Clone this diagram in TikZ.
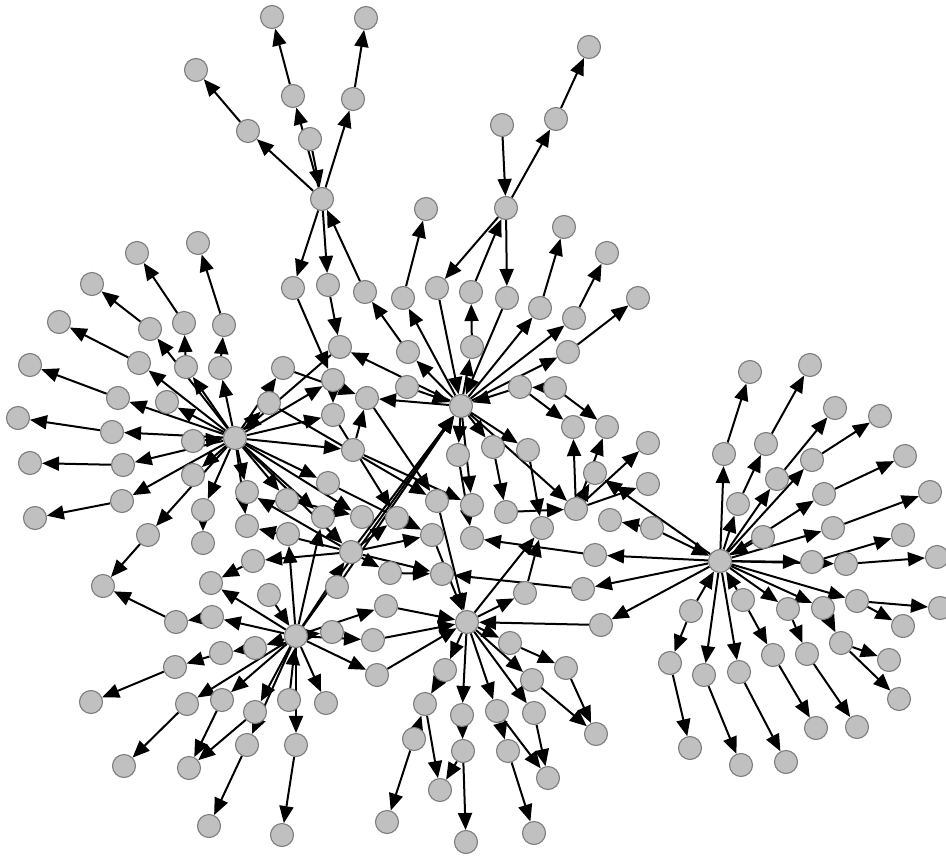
\documentclass[tikz,border=0pt]{standalone}
\usetikzlibrary{arrows.meta}
\pgfdeclarelayer{bg}
\pgfsetlayers{bg,main}
\definecolor{nodefill}{RGB}{192,192,192}
\definecolor{nodeline}{RGB}{125,125,125}
\begin{document}
\begin{tikzpicture}[x=1pt,y=-1pt,
  v/.style={circle,fill=nodefill,draw=nodeline,line width=1.1pt,minimum size=23pt,inner sep=0pt},
  e/.style={line width=2pt,black,-{Triangle[length=17pt,width=14pt]}}]
\useasboundingbox (0,0) rectangle (946,857);
\foreach \n/\x/\y in {
A/235/438, B/461/406, C/720/561, D/296/636, E/467/622, F/576/509, G/322/199, H/506/208, I/351/552,
g1/272/17, g2/366/18, g3/196/70, g4/293/96, g5/353/99, g6/248/131, g7/310/139, ga/293/288, gb/328/285, gc/365/292,
h1/589/47, h2/556/119, h3/502/125, h4/426/209, h5/564/227, h6/607/253, ha/403/298, hb/437/288, hc/471/292, hd/507/298, he/540/308, hf/574/318, hg/638/298,
b1/340/347, b2/408/352, b3/472/347, b4/568/352, b5/333/380, b6/367/398, b7/407/387, b8/520/387, b9/555/388, b10/333/415, b11/573/427, b12/607/427, b13/353/450, b14/458/455, b15/493/447, b16/528/450, b17/595/473, b18/328/483,
c1/437/501, c2/472/505, c3/506/512, c4/542/528, c5/610/520, c6/323/517, c7/362/517, c8/397/518, c9/432/535, c10/472/538, c11/595/555, c12/390/573, c13/442/574, c14/525/593, c15/583/589, c16/386/606, c17/601/625, c18/337/587,
f1/648/443, f2/648/484, f3/652/528,
a1/92/284, a2/137/253, a3/198/243, a4/59/322, a5/150/329, a6/184/323, a7/224/325, a8/30/365, a9/139/363, a10/186/367, a11/220/368, a12/283/368, a13/118/398, a14/167/402, a15/269/403, a16/18/418, a17/112/432, a18/193/441, a19/30/463, a20/123/465, a21/193/475, a22/35/518, a23/122/501, a24/247/492, a25/287/500, a26/203/510, a27/247/526, a28/288/534, a29/148/535, a30/203/543, a31/253/561,
d1/103/586, d2/211/583, d3/269/595, d4/176/622, d5/212/617, d6/221/653, d7/255/648, d8/175/667, d9/91/702, d10/187/704, d11/222/700, d12/255/712, d13/289/700, d14/326/703, d15/247/745, d16/296/745, d17/124/766, d18/189/768, d19/209/826, d20/282/835, d21/332/632, d22/373/640, d23/377/675,
e1/510/643, e2/445/670, e3/532/680, e4/566/668, e5/425/704, e6/462/715, e7/497/711, e8/534/713, e9/596/734, e10/414/739, e11/463/751, e12/508/751, e13/548/778, e14/440/790, e15/387/822, e16/466/842, e17/534/833,
k1/750/372, k2/810/365, k3/835/408, k4/880/416, k5/724/454, k6/766/444, k7/905/456, k8/777/479, k9/812/460, k10/738/504, k11/824/494, k12/930/492, k13/763/537, k14/833/528, k15/903/535, k16/812/562, k17/846/564, k18/937/557, k19/743/600, k20/788/609, k21/823/608, k22/857/601, k23/940/608, k24/691/611, k25/903/626, k26/841/643, k27/670/663, k28/704/675, k29/739/672, k30/773/655, k31/807/654, k32/889/660, k33/899/699, k34/816/728, k35/857/727, k36/690/748, k37/741/765, k38/786/762}
  {\node[v] (\n) at (\x,\y) {};}
\begin{pgfonlayer}{bg}
\foreach \s/\t in {
G/g4, g4/g1, G/g5, g5/g2, G/g6, g6/g3, g7/G, G/ga, G/gb, gc/G, ga/b5, gb/b1,
H/h2, h2/h1, h3/H, H/hb, hc/H, H/hd, ha/h4, he/h5, hf/h6,
B/ha, hb/B, B/b3, b3/hc, hd/B, B/he, B/hf, B/b4, b4/hg, B/b2, b2/gc, B/b1, b7/B, b8/B, b9/b8, b8/b11, b9/b12, B/b6, B/b14, B/b15, B/b16, B/F, F/b17, B/c2, b15/c3, b16/c4, I/B, D/B, c18/B, b1/A, b13/b6,
F/b11, F/b12, F/f1, F/f2, c3/F, f3/c5, f3/C, C/b17, C/c11, C/c15, C/c17, c15/c13, c17/E, c11/c10, E/c4, c14/c4, E/c14,
A/a17, a17/a16, A/a13, a13/a8, A/a9, a9/a4, A/a5, a5/a1, A/a10, a10/a6, a6/a2, A/a11, a11/a7, a7/a3, A/a14, a18/A, A/a20, a20/a19, A/a23, a23/a22, A/a29, a29/d1, A/a21, A/a26, a26/a30, A/a24, A/a27, A/a25, A/a12, a12/b6, A/b5, A/b10, A/b13, A/b18, A/c6, A/c7, A/I, A/a15,
I/a24, I/a27, I/a31, I/c8, I/c9, I/c12, I/c13, b6/c1, c1/E, b14/c10, c9/E,
b13/c2, b10/c8, a15/c1, D/c6, a31/d2, c12/c13, d22/E, b18/c9, a25/c7, D/I, c16/E, b5/b10,
D/d7, d7/d6, d6/d8, d8/d9, D/d5, d5/d4, d4/d1, D/d2, D/d10, d10/d17, D/d11, d11/d18, D/d12, d12/d18, D/d15, d15/d19, D/d16, d16/d20, D/d14, d13/D, d3/D, D/d22, D/d23, d23/E, D/c16, D/a28, D/d21,
E/e2, e2/e5, e5/e14, e10/e5, e10/e15, E/e6, e6/e11, e11/e14, e11/e16, E/e7, e7/e12, e7/e13, e12/e17, E/e8, e8/e13, E/e3, e3/e9, E/e1, e1/e4, e4/e9,
C/k5, k5/k1, C/k10, k10/k6, k6/k2, C/k8, k8/k3, C/k9, k9/k4, C/k11, k11/k7, C/k14, k14/k12, k13/C, C/k16, k16/k15, C/k17, k17/k18, k19/C, C/k20, C/k21, C/k22, k22/k23, k22/k25, k21/k26, k26/k32, k26/k33, k20/k31, k31/k35, k19/k30, k30/k34, k24/C, k24/k27, k27/k36, C/k28, k28/k37, C/k29, k29/k38}
  {\draw[e] (\s) -- (\t);}
\end{pgfonlayer}
\end{tikzpicture}
\end{document}
